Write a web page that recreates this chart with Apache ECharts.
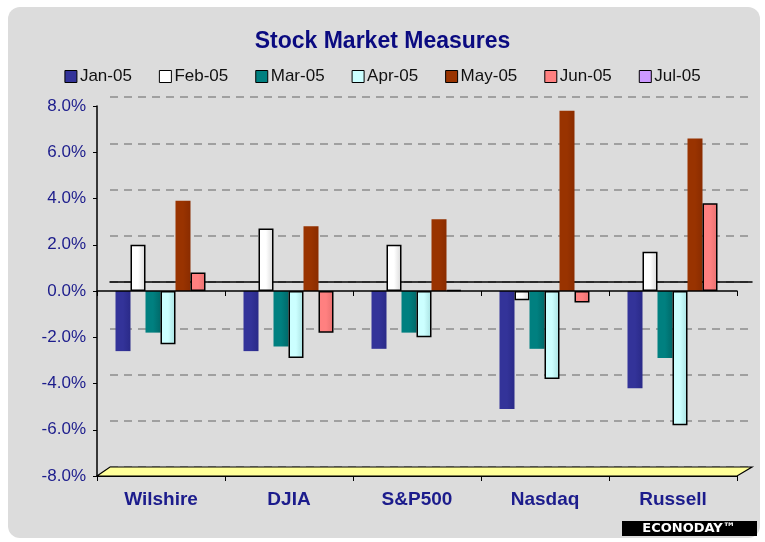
<!DOCTYPE html>
<html>
<head>
<meta charset="utf-8">
<script src="https://cdn.jsdelivr.net/npm/echarts@6/dist/echarts.min.js"></script>
<style>
  html, body { margin: 0; padding: 0; background: #fff; }
  #chart { width: 765px; height: 542px; }
</style>
</head>
<body>
<div id="chart"></div>
<script>
  // markets on the x axis
  var markets = ['Wilshire', 'DJIA', 'S&P500', 'Nasdaq', 'Russell'];
  var months = ['Jan-05', 'Feb-05', 'Mar-05', 'Apr-05', 'May-05', 'Jun-05', 'Jul-05'];

  // monthly % change, one array per month
  var jan05 = [-2.6, -2.6, -2.5, -5.1, -4.2];
  var feb05 = [2.0, 2.7, 2.0, -0.4, 1.7];
  var mar05 = [-1.8, -2.4, -1.8, -2.5, -2.9];
  var apr05 = [-2.3, -2.9, -2.0, -3.8, -5.8];
  var may05 = [3.9, 2.8, 3.1, 7.8, 6.6];
  var jun05 = [0.8, -1.8, 0.05, -0.5, 3.8];
  var jul05 = [0, 0, 0, 0, 0];

  var yMin = -8, yMax = 8, yStep = 2;

  var colors = ['#333399', '#ffffff', '#008080', '#ccffff', '#993300', '#ff8080', '#cc99ff'];
  var shades = ['#2a2a88', '#d8d8d8', '#006a6a', '#a8e0e0', '#8a2c00', '#e87070', '#b888ee'];
  var outlined = [false, true, false, true, false, true, false];
  var values = [jan05, feb05, mar05, apr05, may05, jun05, jul05];

  var navy = '#1c1c8c';

  var myChart = echarts.init(document.getElementById('chart'));

  var series = months.map(function (m, i) {
    return {
      name: m,
      type: 'bar',
      xAxisIndex: 3,
      yAxisIndex: 2,
      barWidth: 15,
      barGap: '0%',
      data: values[i],
      itemStyle: {
        // a bit of shading so the bars look round-ish like the excel ones
        color: new echarts.graphic.LinearGradient(0, 0, 1, 0, [
          {offset: 0, color: colors[i]},
          {offset: 0.5, color: colors[i]},
          {offset: 1, color: shades[i]}
        ]),
        borderColor: outlined[i] ? '#000' : colors[i],
        borderWidth: (outlined[i] && i !== 6) ? 1.5 : 0
      }
    };
  });

  myChart.setOption({
    animation: false,
    color: colors,
    title: {
      text: 'Stock Market Measures',
      left: 'center',
      top: 25,
      textStyle: {
        color: '#0a0a80',
        fontFamily: 'Liberation Sans, Arial',
        fontWeight: 'bold',
        fontSize: 23
      }
    },
    legend: {
      top: 63,
      left: 'center',
      itemWidth: 12,
      itemHeight: 12,
      itemGap: 27,
      icon: 'rect',
      data: months.map(function (m, i) {
        return {name: m, itemStyle: {color: colors[i], borderColor: '#000', borderWidth: 1}};
      }),
      textStyle: {
        color: '#111',
        fontFamily: 'Liberation Sans, Arial',
        fontSize: 17,
        padding: [0, 0, 0, -2]
      }
    },
    graphic: [
      {
        type: 'rect',
        z: -10,
        shape: {x: 8, y: 7, width: 752, height: 531, r: 12},
        style: {fill: '#dcdcdc'}
      },
      {
        // floor of the 3d plot
        type: 'polygon',
        z: 1,
        shape: {points: [[97, 476], [737, 476], [752, 467], [110, 467]]},
        style: {fill: '#ffff99', stroke: '#000', lineWidth: 1.2}
      },
      {
        type: 'rect',
        shape: {x: 622, y: 521, width: 135, height: 15},
        style: {fill: '#000'}
      },
      {
        type: 'text',
        x: 689,
        y: 529,
        style: {
          text: 'ECONODAY\u2122',
          fill: '#fff',
          font: 'bold 13px DejaVu Sans',
          align: 'center',
          verticalAlign: 'middle'
        }
      }
    ],
    grid: [
      // front: labelled axes
      {left: 97, width: 640, top: 106, height: 370},
      // back wall
      {left: 110, width: 642, top: 97, height: 370},
      // bars, half way back
      {left: 104, width: 640, top: 106, height: 370}
    ],
    xAxis: [
      {
        gridIndex: 0,
        type: 'category',
        data: markets,
        axisLine: {onZero: false, lineStyle: {color: '#000', width: 1.2}},
        axisTick: {show: true, length: 5, lineStyle: {color: '#000'}},
        axisLabel: {
          margin: 14,
          color: navy,
          fontFamily: 'Liberation Sans, Arial',
          fontWeight: 'bold',
          fontSize: 19
        },
        z: 3
      },
      {
        gridIndex: 0,
        type: 'category',
        data: markets,
        position: 'top',
        axisLine: {onZero: true, lineStyle: {color: '#000', width: 1.5}},
        axisTick: {show: true, inside: true, length: 5, lineStyle: {color: '#000'}},
        axisLabel: {show: false},
        z: 3
      },
      {
        gridIndex: 1,
        type: 'category',
        data: markets,
        axisLine: {onZero: true, lineStyle: {color: '#000', width: 1.5}},
        axisTick: {show: false},
        axisLabel: {show: false}
      },
      {
        gridIndex: 2,
        type: 'category',
        data: markets,
        axisLine: {show: false},
        axisTick: {show: false},
        axisLabel: {show: false}
      }
    ],
    yAxis: [
      {
        gridIndex: 0,
        type: 'value',
        min: yMin,
        max: yMax,
        interval: yStep,
        axisLine: {show: true, lineStyle: {color: '#000', width: 1.5}},
        axisTick: {show: true, length: 4, lineStyle: {color: '#000'}},
        splitLine: {show: false},
        axisLabel: {
          margin: 11,
          color: navy,
          fontFamily: 'Liberation Sans, Arial',
          fontSize: 17,
          formatter: function (v) { return v.toFixed(1) + '%'; }
        },
        z: 3
      },
      {
        gridIndex: 1,
        type: 'value',
        min: yMin,
        max: yMax,
        interval: yStep,
        axisLine: {show: false},
        axisTick: {show: false},
        axisLabel: {show: false},
        splitLine: {show: true, lineStyle: {color: '#a0a0a0', width: 2, type: [8, 6]}}
      },
      {
        gridIndex: 2,
        type: 'value',
        min: yMin,
        max: yMax,
        interval: yStep,
        show: false,
        splitLine: {show: false}
      }
    ],
    series: series
  });
</script>
</body>
</html>
